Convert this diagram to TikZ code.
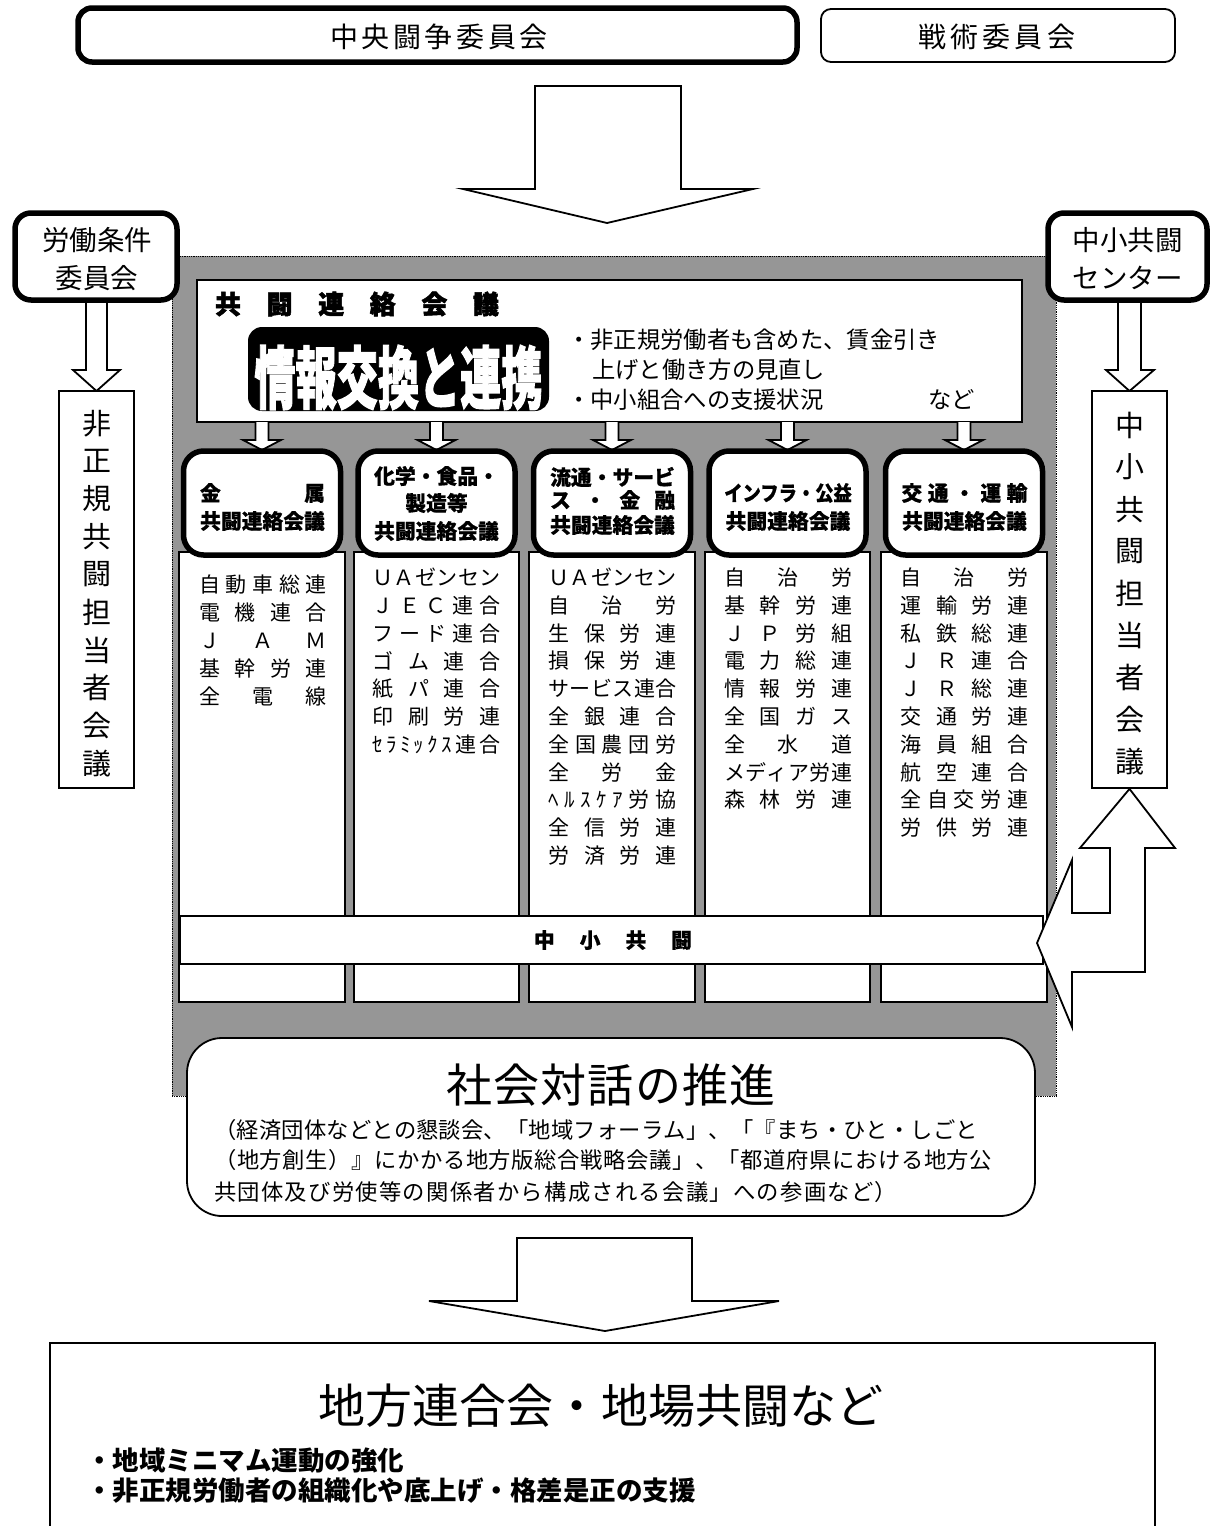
\documentclass[tikz,border=0pt]{standalone}
\usepackage{fontspec}
\setmainfont{Noto Sans CJK JP}
\newfontfamily\heavyfont{Noto Sans CJK JP}[BoldFeatures={FakeBold=2}]
\newfontfamily\semifont{Noto Sans CJK JP}[BoldFeatures={FakeBold=0.6}]
\definecolor{grayfill}{RGB}{150,150,150}
\makeatletter
\def\sp@#1{\ifx\relax#1\else\hfill#1\expandafter\sp@\fi}
\def\sp@first#1{#1\sp@}
\newcommand\spread[2]{\makebox[#1][s]{\sp@first#2\relax}}
\newcommand\spreadm[2]{\edef\sp@tmp{\noexpand\spread{#1}{#2}}\sp@tmp}
\makeatother
\newcommand\fsz[1]{\fontsize{#1}{#1}\selectfont}
\begin{document}
\begin{tikzpicture}[x=1pt,y=-1pt,
  heavybox/.style={draw,line width=5.5pt,fill=white,inner sep=0pt},
  lightbox/.style={draw,line width=1.8pt,fill=white,inner sep=0pt},
  blockarrow/.style={draw,line width=1.8pt,fill=white,line join=miter},
  txt/.style={inner sep=0pt,anchor=center},
  hdtxt/.style={inner sep=0pt,anchor=center,font=\semifont\bfseries\fsz{20.8}}]
\useasboundingbox (0,0) rectangle (1216,1526);
\fill[white] (0,0) rectangle (1216,1526);

% gray area
\node[draw,densely dotted,line width=0.8pt,fill=grayfill,minimum width=884pt,minimum height=840pt,inner sep=0pt] (grayarea) at (614,676) {};

% top boxes
\node[heavybox,rounded corners=14pt,minimum width=719pt,minimum height=54pt] (chuo) at (437.5,35) {};
\node[txt] (chuoT) at (439,36.5) {\fsz{28}\spread{218pt}{中央闘争委員会}};
\node[lightbox,rounded corners=10pt,minimum width=354pt,minimum height=53pt] (senjutsu) at (998,35.5) {};
\node[txt] (senjutsuT) at (996.5,36.5) {\fsz{28}\spread{157pt}{戦術委員会}};

% big arrow 1
\draw[blockarrow] (535,86) -- (681,86) -- (681,189) -- (753,189) -- (607,223) -- (463,189) -- (535,189) -- cycle;

% side arrows and boxes
\draw[blockarrow] (86,300) -- (86,370) -- (73,370) -- (96.5,391) -- (120,370) -- (107,370) -- (107,300);
\draw[blockarrow] (1118,300) -- (1118,370) -- (1106,370) -- (1129.5,391) -- (1154,370) -- (1141,370) -- (1141,300);
\node[heavybox,rounded corners=16pt,minimum width=162pt,minimum height=87pt] (rodo) at (96,256.5) {};
\node[txt] (rodoT1) at (97,240) {\fsz{27.5}労働条件};
\node[txt] (rodoT2) at (97,278) {\fsz{27.5}委員会};
\node[heavybox,rounded corners=16pt,minimum width=159pt,minimum height=87pt] (center) at (1127.5,256.5) {};
\node[txt] (centerT1) at (1127.5,240) {\fsz{27.5}中小共闘};
\node[txt] (centerT2) at (1127.5,278) {\fsz{27.5}センター};

\node[lightbox,minimum width=75pt,minimum height=397pt] (hiseiki) at (96.5,589.5) {};
\foreach \c [count=\i from 0] in {非,正,規,共,闘,担,当,者,会,議}
  \node[txt] (hs\i) at (96.5,423.3+37.8*\i) {\fsz{29}\c};
\node[lightbox,minimum width=75pt,minimum height=397pt] (chusho) at (1129.5,589.5) {};
\foreach \c [count=\i from 0] in {中,小,共,闘,担,当,者,会,議}
  \node[txt] (cs\i) at (1129.5,425+42.1*\i) {\fsz{29}\c};

% header box
\node[lightbox,minimum width=825pt,minimum height=142pt] (hdr) at (609.5,351) {};
\node[txt] (kyoto) at (357,304) {\heavyfont\bfseries\fsz{26}\spread{284pt}{共闘連絡会議}};
\node[fill=black,rounded corners=14pt,minimum width=301pt,minimum height=84pt,inner sep=0pt] (info) at (398.5,369) {};
\node[txt,text=white] (infoT) at (398.5,377.5) {\scalebox{0.605}[1]{\heavyfont\bfseries\fsz{68}情報交換と連携}};
\node[txt,anchor=west] (hb1) at (567,340) {\fsz{23.3}・非正規労働者も含めた、賃金引き};
\node[txt,anchor=west] (hb2) at (592,370) {\fsz{23.3}上げと働き方の見直し};
\node[txt,anchor=west] (hb3) at (567,400) {\fsz{23.3}・中小組合への支援状況};
\node[txt,anchor=west] (hb4) at (928,400) {\fsz{23.3}など};

% small arrows
\foreach \cx in {262,436.5,612,787.5,964}
  \draw[blockarrow] ({\cx-6.5},422) -- ({\cx-6.5},440) -- ({\cx-19},440) -- (\cx,450) -- ({\cx+19},440) -- ({\cx+6.5},440) -- ({\cx+6.5},422);

% column bodies
\node[lightbox,minimum width=166pt,minimum height=450pt] (body1) at (262,777) {};
\node[lightbox,minimum width=165pt,minimum height=450pt] (body2) at (436.5,777) {};
\node[lightbox,minimum width=166pt,minimum height=450pt] (body3) at (612,777) {};
\node[lightbox,minimum width=165pt,minimum height=450pt] (body4) at (787.5,777) {};
\node[lightbox,minimum width=166pt,minimum height=450pt] (body5) at (964,777) {};

% column headers
\foreach \cx/\n in {262/1,436.5/2,612/3,787.5/4,964/5}
  \node[heavybox,rounded corners=20pt,minimum width=157pt,minimum height=104pt] (head\n) at (\cx,503) {};
\node[hdtxt] (h1a) at (262.5,493) {\spread{125pt}{金属}};
\node[hdtxt] (h1b) at (262.5,521) {共闘連絡会議};
\node[hdtxt] (h2a) at (436.5,476) {化学・食品・};
\node[hdtxt] (h2b) at (436.5,503) {製造等};
\node[hdtxt] (h2c) at (436.5,531) {共闘連絡会議};
\node[hdtxt] (h3a) at (612.5,477) {流通・サービ};
\node[hdtxt] (h3b) at (612.5,500) {\spread{125pt}{ス・金融}};
\node[hdtxt] (h3c) at (612.5,525) {共闘連絡会議};
\node[hdtxt] (h4a) at (788,493) {\scalebox{0.88}[1]{インフラ・公益}};
\node[hdtxt] (h4b) at (788,521) {共闘連絡会議};
\node[hdtxt] (h5a) at (964.5,493) {\spread{126pt}{交通・運輸}};
\node[hdtxt] (h5b) at (964.5,521) {共闘連絡会議};

% member lists
\foreach \t [count=\i from 0] in {自動車総連,電機連合,ＪＡＭ,基幹労連,全電線}
  \node[txt] (ma\i) at (263,585+27.8*\i) {\fsz{21}\spreadm{128pt}{\t}};
\foreach \t [count=\i from 0] in {ＵＡゼンセン,ＪＥＣ連合,フード連合,ゴム連合,紙パ連合,印刷労連,ｾﾗﾐｯｸｽ連合}
  \node[txt] (mb\i) at (436.5,577.5+27.8*\i) {\fsz{21}\spreadm{128pt}{\t}};
\foreach \t [count=\i from 0] in {ＵＡゼンセン,自治労,生保労連,損保労連,サービス連合,全銀連合,全国農団労,全労金,ﾍﾙｽｹｱ労協,全信労連,労済労連}
  \node[txt] (mc\i) at (612.5,577.5+27.8*\i) {\fsz{21}\spreadm{128pt}{\t}};
\foreach \t [count=\i from 0] in {自治労,基幹労連,ＪＰ労組,電力総連,情報労連,全国ガス,全水道,メディア労連,森林労連}
  \node[txt] (md\i) at (788,577.5+27.8*\i) {\fsz{21}\spreadm{128pt}{\t}};
\foreach \t [count=\i from 0] in {自治労,運輸労連,私鉄総連,ＪＲ連合,ＪＲ総連,交通労連,海員組合,航空連合,全自交労連,労供労連}
  \node[txt] (me\i) at (964.5,577.5+27.8*\i) {\fsz{21}\spreadm{128pt}{\t}};

% bar
\node[lightbox,minimum width=863pt,minimum height=48pt] (bar) at (611.5,940) {};
\node[hdtxt] (barT) at (613,940) {\spread{158pt}{中小共闘}};

% U-turn arrow
\draw[blockarrow] (chusho.south) -- (1175,848) -- (1145,848) -- (1145,972) -- (1072,972) -- (1072,1027) -- (1037,943) -- (1072,860) -- (1072,913) -- (1110,913) -- (1110,848) -- (1080,848) -- cycle;

% social dialogue box
\node[lightbox,rounded corners=35pt,minimum width=848pt,minimum height=178pt] (shakai) at (611,1127) {};
\node[txt] (shakaiT) at (611,1085) {\fsz{46}\spread{330pt}{社会対話の推進}};
\node[txt,anchor=west] (p1) at (214,1130) {\fsz{22.3}\spread{764pt}{（経済団体などとの懇談会、「地域フォーラム」、「『まち・ひと・しごと}};
\node[txt,anchor=west] (p2) at (214,1160) {\fsz{22.3}\spread{778pt}{（地方創生）』にかかる地方版総合戦略会議」、「都道府県における地方公}};
\node[txt,anchor=west] (p3) at (214,1192) {\fsz{22.3}\spread{683pt}{共団体及び労使等の関係者から構成される会議」への参画など）}};

% bottom arrow
\draw[blockarrow] (517,1238) -- (692,1238) -- (692,1301) -- (779,1301) -- (605,1331) -- (429,1301) -- (517,1301) -- cycle;

% bottom box
\node[lightbox,minimum width=1105pt,minimum height=260pt,anchor=north] (chiho) at (602.5,1342) {};
\node[txt] (chihoT) at (601,1406) {\fsz{47}\spread{566pt}{地方連合会・地場共闘など}};
\node[txt,anchor=west] (cb1) at (86,1461) {\fsz{26.5}\bfseries ・地域ミニマム運動の強化};
\node[txt,anchor=west] (cb2) at (86,1491) {\fsz{26.5}\bfseries ・非正規労働者の組織化や底上げ・格差是正の支援};
\end{tikzpicture}
\end{document}
